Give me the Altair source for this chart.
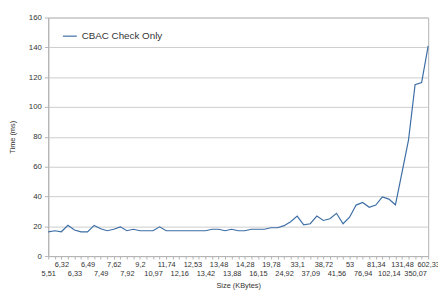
import json
import altair as alt
import pandas as pd

# tick labels shown on the x axis (every second category)
x_labels = ["5,51", "6,32", "6,33", "6,49", "7,49", "7,62", "7,92", "9,2", "10,97", "11,74",
            "12,16", "12,53", "13,42", "13,48", "13,88", "14,28", "16,15", "19,78", "24,92", "33,1",
            "37,09", "38,72", "41,56", "53", "76,94", "81,34", "102,14", "131,48", "350,07", "602,33"]

# time values (ms), one per category (59 categories)
time_ms = [16.2, 17, 16.3, 20.6, 17.5, 16.2, 16.2, 20.6, 18.3, 17,
           18, 19.6, 17, 18, 17, 17, 17, 19.6, 17, 17,
           17, 17, 17, 17, 17, 18, 18, 17, 18, 17,
           17, 18, 18, 18, 19, 19, 20.4, 23, 26.8, 21,
           21.7, 26.8, 23.9, 25, 28.7, 21.7, 26.1, 34.2, 36, 32.7,
           34.2, 39.7, 38.2, 34.4, 56, 78, 115, 116.4, 141]

series_name = "CBAC Check Only"

df = pd.DataFrame({
    "idx": list(range(len(time_ms))),
    "time": time_ms,
    "series": [series_name] * len(time_ms),
})

label_expr = (
    f"datum.value % 2 == 0 ? {json.dumps(x_labels)}[floor(datum.value / 2)] : ''"
)

font = "Liberation Sans"
grey = "#b3b3b3"

chart = alt.Chart(df).mark_line(strokeWidth=1.2).encode(
    x=alt.X(
        "idx:Q",
        scale=alt.Scale(domain=[0, len(time_ms) - 1], nice=False, zero=False),
        axis=alt.Axis(
            title="Size (KBytes)",
            values=list(range(len(time_ms))),
            labelExpr=label_expr,
            labelOverlap=False,
            labelFlush=False,
            labelPadding={"condition": {"test": "datum.value % 4 == 2", "value": 2}, "value": 11},
            labelFontSize=7.5,
            labelColor="#333333",
            labelFont=font,
            grid=False,
            domainColor=grey,
            tickColor=grey,
            tickSize=3,
            titleFontSize=7.5,
            titleFontWeight="normal",
            titleFont=font,
            titleColor="#333333",
            titlePadding=5,
        ),
    ),
    y=alt.Y(
        "time:Q",
        scale=alt.Scale(domain=[0, 160], nice=False),
        axis=alt.Axis(
            title="Time (ms)",
            values=list(range(0, 161, 20)),
            labelFontSize=8,
            labelColor="#333333",
            labelFont=font,
            gridColor="#cccccc",
            domainColor=grey,
            tickColor=grey,
            tickSize=4,
            labelPadding=3,
            titleFontSize=7.5,
            titleFontWeight="normal",
            titleFont=font,
            titleColor="#333333",
            titlePadding=12,
        ),
    ),
    color=alt.Color(
        "series:N",
        scale=alt.Scale(range=["#3c6ea5"]),
        legend=alt.Legend(
            title=None,
            orient="none",
            legendX=14,
            legendY=11,
            symbolType="stroke",
            symbolSize=200,
            symbolStrokeWidth=1.2,
            labelFontSize=10,
            labelFont=font,
            labelColor="#333333",
        ),
    ),
).properties(
    width=387,
    height=243,
    padding={"left": 41, "top": 7, "right": 10, "bottom": 40},
    autosize=alt.AutoSizeParams(type="none"),
).configure_view(
    stroke=grey,
    strokeWidth=1,
)

chart.save("out.html", embed_options={"renderer": "svg", "actions": False})
